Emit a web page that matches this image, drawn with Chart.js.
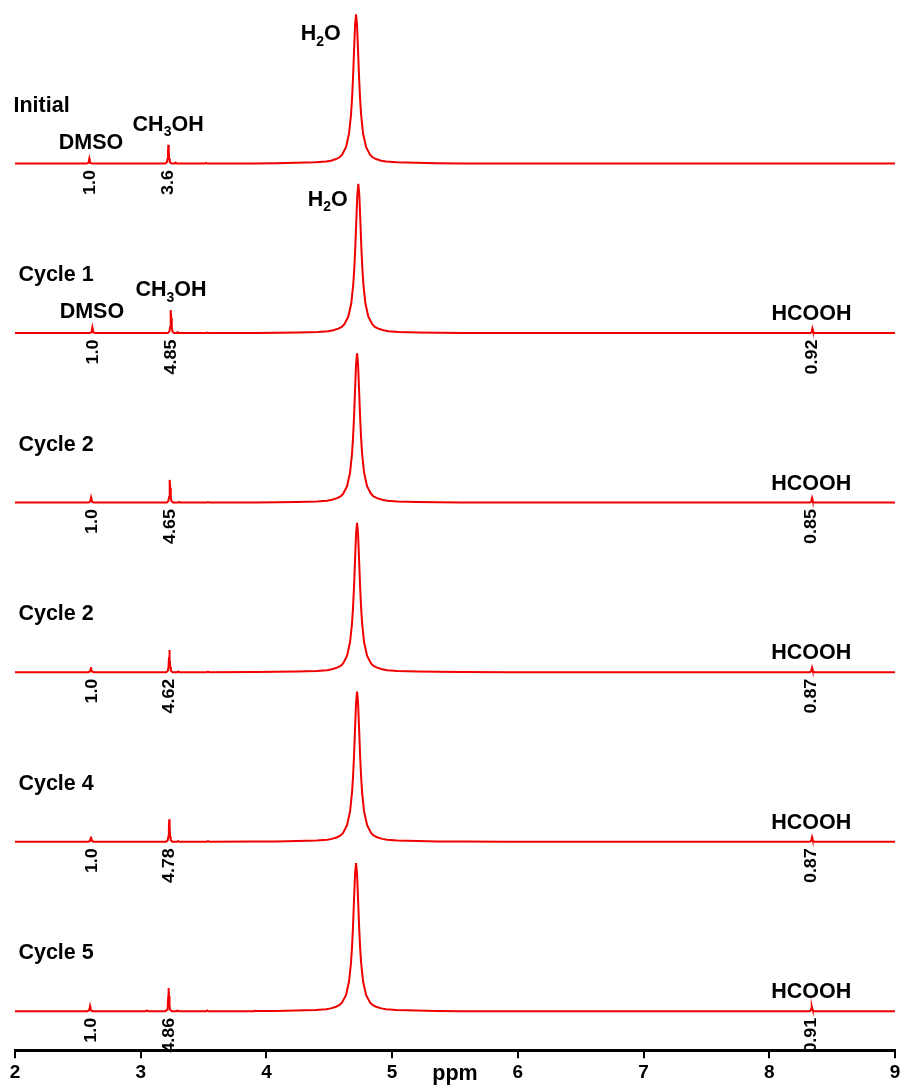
<!DOCTYPE html>
<html>
<head>
<meta charset="utf-8">
<style>
html,body{margin:0;padding:0;background:#fff;}
#wrap{width:900px;height:1087px;position:relative;}
canvas{display:block;}
</style>
<script src="https://cdn.jsdelivr.net/npm/chart.js@4"></script>
</head>
<body>
<div id="wrap"><canvas id="c" width="900" height="1087"></canvas></div>
<script>
// ---------------- DATA ----------------
const traceNames = ['Initial', 'Cycle 1', 'Cycle 2', 'Cycle 2', 'Cycle 4', 'Cycle 5'];
const xTicks = [2, 3, 4, 5, 6, 7, 8, 9];
const xTitle = 'ppm';

// integral values written under the peaks
const dmsoIntegrals = ['1.0', '1.0', '1.0', '1.0', '1.0', '1.0'];
const methanolIntegrals = ['3.6', '4.85', '4.65', '4.62', '4.78', '4.86'];
const formicIntegrals = [null, '0.92', '0.85', '0.87', '0.87', '0.91'];

// peak centres (ppm)
const dmsoPpm = [2.591, 2.615, 2.605, 2.604, 2.604, 2.597];
const methanolPpm = [3.220, 3.240, 3.232, 3.228, 3.227, 3.222];
const formicPpm = [null, 8.343, 8.340, 8.340, 8.340, 8.338];

// spectra: [ppm, intensity] (H2O of the initial spectrum ~ 100)
const spectrumInitial = [
  [2.00,0],
  [2.570,0],[2.582,0.5],[2.587,1.6],[2.591,3.3],[2.595,1.6],[2.600,0.5],[2.612,0],
  [3.195,0],[3.208,0.9],[3.213,3.0],[3.217,8.0],[3.220,12.5],[3.223,8.0],[3.227,3.0],[3.232,0.9],[3.245,0],
  [3.270,0],[3.278,0.6],[3.286,0],
  [3.510,0],[3.520,0.4],[3.530,0],
  [3.900,0.05],[4.073,0.2],[4.233,0.45],[4.393,0.8],[4.474,1.3],[4.513,1.9],[4.554,3.0],[4.582,4.2],[4.602,5.9],[4.633,10.9],[4.657,20.0],[4.673,32.9],[4.681,43.4],[4.689,57.6],[4.697,75.4],[4.705,92.5],
  [4.713,100],
  [4.721,92.5],[4.729,75.4],[4.737,57.6],[4.745,43.4],[4.753,32.9],[4.769,20.0],[4.793,10.9],[4.824,5.9],[4.844,4.2],[4.872,3.0],[4.913,1.9],[4.952,1.3],[5.033,0.8],[5.193,0.45],[5.353,0.2],[5.550,0.05],
  [5.90,0],
  [9.00,0]
];
const spectrumCycle1 = [
  [2.00,0],
  [2.594,0],[2.606,0.6],[2.611,1.8],[2.615,3.7],[2.619,1.8],[2.624,0.6],[2.636,0],
  [3.215,0],[3.228,1.1],[3.233,3.7],[3.237,9.9],[3.240,15.4],[3.243,9.9],[3.247,3.7],[3.252,1.1],[3.265,0],
  [3.285,0],[3.293,0.6],[3.301,0],
  [3.520,0],[3.530,0.4],[3.540,0],
  [3.918,0.05],[4.091,0.2],[4.251,0.45],[4.411,0.8],[4.492,1.3],[4.531,1.9],[4.572,3.0],[4.600,4.2],[4.620,5.9],[4.651,10.9],[4.675,20.0],[4.691,32.9],[4.699,43.4],[4.707,57.6],[4.715,75.4],[4.723,92.5],
  [4.731,100],
  [4.739,92.5],[4.747,75.4],[4.755,57.6],[4.763,43.4],[4.771,32.9],[4.787,20.0],[4.811,10.9],[4.842,5.9],[4.862,4.2],[4.890,3.0],[4.931,1.9],[4.970,1.3],[5.051,0.8],[5.211,0.45],[5.371,0.2],[5.568,0.05],
  [5.90,0],
  [8.325,0],[8.335,0.6],[8.339,1.6],[8.343,3.0],[8.347,1.6],[8.351,0.6],[8.361,0],
  [9.00,0]
];
const spectrumCycle2a = [
  [2.00,0],
  [2.584,0],[2.596,0.5],[2.601,1.7],[2.605,3.4],[2.609,1.7],[2.614,0.5],[2.626,0],
  [3.207,0],[3.220,1.1],[3.225,3.6],[3.229,9.7],[3.232,15.2],[3.235,9.7],[3.239,3.6],[3.244,1.1],[3.257,0],
  [3.300,0],[3.308,0.5],[3.316,0],
  [3.525,0],[3.535,0.4],[3.545,0],
  [3.908,0.05],[4.081,0.2],[4.241,0.45],[4.401,0.8],[4.482,1.3],[4.521,1.9],[4.562,3.0],[4.590,4.2],[4.610,5.9],[4.641,10.9],[4.665,20.0],[4.681,32.9],[4.689,43.4],[4.697,57.6],[4.705,75.4],[4.713,92.5],
  [4.721,100],
  [4.729,92.5],[4.737,75.4],[4.745,57.6],[4.753,43.4],[4.761,32.9],[4.777,20.0],[4.801,10.9],[4.832,5.9],[4.852,4.2],[4.880,3.0],[4.921,1.9],[4.960,1.3],[5.041,0.8],[5.201,0.45],[5.361,0.2],[5.558,0.05],
  [5.90,0],
  [8.322,0],[8.332,0.6],[8.336,1.6],[8.340,3.0],[8.344,1.6],[8.348,0.6],[8.358,0],
  [9.00,0]
];
const spectrumCycle2b = [
  [2.00,0],
  [2.583,0],[2.595,0.5],[2.600,1.6],[2.604,3.3],[2.608,1.6],[2.613,0.5],[2.625,0],
  [3.203,0],[3.216,1.0],[3.221,3.5],[3.225,9.5],[3.228,14.8],[3.231,9.5],[3.235,3.5],[3.240,1.0],[3.253,0],
  [3.290,0],[3.298,0.5],[3.306,0],
  [3.525,0],[3.535,0.4],[3.545,0],
  [3.908,0.05],[4.081,0.2],[4.241,0.45],[4.401,0.8],[4.482,1.3],[4.521,1.9],[4.562,3.0],[4.590,4.2],[4.610,5.9],[4.641,10.9],[4.665,20.0],[4.681,32.9],[4.689,43.4],[4.697,57.6],[4.705,75.4],[4.713,92.5],
  [4.721,100],
  [4.729,92.5],[4.737,75.4],[4.745,57.6],[4.753,43.4],[4.761,32.9],[4.777,20.0],[4.801,10.9],[4.832,5.9],[4.852,4.2],[4.880,3.0],[4.921,1.9],[4.960,1.3],[5.041,0.8],[5.201,0.45],[5.361,0.2],[5.558,0.05],
  [5.90,0],
  [8.322,0],[8.332,0.6],[8.336,1.6],[8.340,3.0],[8.344,1.6],[8.348,0.6],[8.358,0],
  [9.00,0]
];
const spectrumCycle4 = [
  [2.00,0],
  [2.583,0],[2.595,0.5],[2.600,1.7],[2.604,3.4],[2.608,1.7],[2.613,0.5],[2.625,0],
  [3.202,0],[3.215,1.0],[3.220,3.5],[3.224,9.6],[3.227,15.0],[3.230,9.6],[3.234,3.5],[3.239,1.0],[3.252,0],
  [3.290,0],[3.298,0.5],[3.306,0],
  [3.525,0],[3.535,0.4],[3.545,0],
  [3.908,0.05],[4.081,0.2],[4.241,0.45],[4.401,0.8],[4.482,1.3],[4.521,1.9],[4.562,3.0],[4.590,4.2],[4.610,5.9],[4.641,11.0],[4.665,20.1],[4.681,33.1],[4.689,43.7],[4.697,57.9],[4.705,75.9],[4.713,93.0],
  [4.721,100.6],
  [4.729,93.0],[4.737,75.9],[4.745,57.9],[4.753,43.7],[4.761,33.1],[4.777,20.1],[4.801,11.0],[4.832,5.9],[4.852,4.2],[4.880,3.0],[4.921,1.9],[4.960,1.3],[5.041,0.8],[5.201,0.45],[5.361,0.2],[5.558,0.05],
  [5.90,0],
  [8.322,0],[8.332,0.6],[8.336,1.6],[8.340,3.0],[8.344,1.6],[8.348,0.6],[8.358,0],
  [9.00,0]
];
const spectrumCycle5 = [
  [2.00,0],
  [2.576,0],[2.588,0.5],[2.593,1.7],[2.597,3.4],[2.601,1.7],[2.606,0.5],[2.618,0],
  [3.040,0],[3.050,0.5],[3.060,0],
  [3.197,0],[3.210,1.1],[3.215,3.7],[3.219,10.0],[3.222,15.6],[3.225,10.0],[3.229,3.7],[3.234,1.1],[3.247,0],
  [3.285,0],[3.293,0.5],[3.301,0],
  [3.520,0],[3.530,0.5],[3.540,0],
  [3.900,0.05],[3.910,0.35],[3.920,0.1],
  [4.073,0.2],[4.233,0.45],[4.393,0.8],[4.474,1.3],[4.513,1.9],[4.554,3.0],[4.582,4.2],[4.602,5.9],[4.633,10.8],[4.657,19.9],[4.673,32.7],[4.681,43.1],[4.689,57.2],[4.697,74.9],[4.705,91.9],
  [4.713,99.3],
  [4.721,91.9],[4.729,74.9],[4.737,57.2],[4.745,43.1],[4.753,32.7],[4.769,19.9],[4.793,10.8],[4.824,5.9],[4.844,4.2],[4.872,3.0],[4.913,1.9],[4.952,1.3],[5.033,0.8],[5.193,0.45],[5.353,0.2],[5.550,0.05],
  [5.90,0],
  [8.320,0],[8.330,0.6],[8.334,1.7],[8.338,3.2],[8.342,1.7],[8.346,0.6],[8.356,0],
  [9.00,0]
];
const spectra = [spectrumInitial, spectrumCycle1, spectrumCycle2a, spectrumCycle2b, spectrumCycle4, spectrumCycle5];

// ---------------- LAYOUT / STYLE ----------------
const FONT = '"Liberation Sans", Arial, Helvetica, sans-serif';
const RED = '#f00000';
const baselinePx = [162.7, 332.4, 502.1, 671.8, 841.5, 1011.2];
const unitPx = 1.494;          // pixels per intensity unit

const yScales = {};
spectra.forEach((s, i) => {
  yScales['y' + i] = { type: 'linear', display: false, min: -30, max: 100 };
});

// peak label placement: [traceIndex, parts, anchorPpm, align, risePx]
const peakLabelLayout = [
  [0, [['DMSO', 0]], 2.605, 'center', 14.7],
  [0, [['CH', 0], ['3', 1], ['OH', 0]], 3.218, 'center', 32.7],
  [0, [['H', 0], ['2', 1], ['O', 0]], 4.591, 'right', 123.4],
  [1, [['DMSO', 0]], 2.612, 'center', 14.6],
  [1, [['CH', 0], ['3', 1], ['OH', 0]], 3.241, 'center', 36.6],
  [1, [['H', 0], ['2', 1], ['O', 0]], 4.647, 'right', 127.3],
  [1, [['HCOOH', 0]], 8.336, 'center', 13],
  [2, [['HCOOH', 0]], 8.333, 'center', 13],
  [3, [['HCOOH', 0]], 8.333, 'center', 13],
  [4, [['HCOOH', 0]], 8.333, 'center', 13],
  [5, [['HCOOH', 0]], 8.333, 'center', 13]
];
const nameLabelX = [13.5, 18.4, 18.4, 18.4, 18.4, 18.4];
const nameRise = 52;
const MAIN_FONT = 'bold 21.5px ' + FONT;
const SUB_FONT = 'bold 14px ' + FONT;

function drawChem(ctx, parts, x, y, align) {
  let w = 0;
  parts.forEach(p => { ctx.font = p[1] ? SUB_FONT : MAIN_FONT; w += ctx.measureText(p[0]).width; });
  let cx = align === 'center' ? x - w / 2 : (align === 'right' ? x - w : x);
  ctx.textAlign = 'left';
  ctx.textBaseline = 'alphabetic';
  parts.forEach(p => {
    ctx.font = p[1] ? SUB_FONT : MAIN_FONT;
    ctx.fillText(p[0], cx, p[1] ? y + 5.5 : y);
    cx += ctx.measureText(p[0]).width;
  });
}

function drawIntegral(ctx, text, x, y) {
  ctx.save();
  ctx.translate(x, y);
  ctx.rotate(-Math.PI / 2);
  ctx.scale(1.12, 1);
  ctx.font = 'bold 16px ' + FONT;
  ctx.textAlign = 'right';
  ctx.textBaseline = 'middle';
  ctx.fillText(text, 0, 0);
  ctx.restore();
}

const labelPlugin = {
  id: 'nmrLabels',
  afterDraw(chart) {
    const ctx = chart.ctx;
    const xs = chart.scales.x;
    ctx.save();
    ctx.fillStyle = '#000';
    traceNames.forEach((name, i) => {
      const base = chart.scales['y' + i].getPixelForValue(0);
      ctx.font = MAIN_FONT;
      ctx.textAlign = 'left';
      ctx.textBaseline = 'alphabetic';
      ctx.fillText(name, nameLabelX[i], base - nameRise);
      drawIntegral(ctx, dmsoIntegrals[i], xs.getPixelForValue(dmsoPpm[i]) + 1.5, base + 6.5);
      drawIntegral(ctx, methanolIntegrals[i], xs.getPixelForValue(methanolPpm[i]) + 0.5, base + 6.5);
      if (formicIntegrals[i]) drawIntegral(ctx, formicIntegrals[i], xs.getPixelForValue(formicPpm[i]), base + 6.5);
    });
    peakLabelLayout.forEach(l => {
      const base = chart.scales['y' + l[0]].getPixelForValue(0);
      drawChem(ctx, l[1], xs.getPixelForValue(l[2]), base - l[4], l[3]);
    });
    // axis title
    ctx.font = MAIN_FONT;
    ctx.textAlign = 'center';
    ctx.textBaseline = 'alphabetic';
    ctx.fillText(xTitle, (xs.left + xs.right) / 2, 1080.3);
    ctx.restore();
  }
};

const datasets = spectra.map((s, i) => ({
  label: traceNames[i],
  data: s,
  yAxisID: 'y' + i,
  borderColor: RED,
  borderWidth: 2,
  pointRadius: 0,
  tension: 0,
  fill: false,
  clip: false
}));

const chart = new Chart(document.getElementById('c'), {
  type: 'line',
  data: { datasets },
  options: {
    responsive: false,
    animation: false,
    devicePixelRatio: 1,
    events: [],
    layout: { padding: { top: 0, left: 15, right: 5, bottom: 0 } },
    plugins: { legend: { display: false }, tooltip: { enabled: false } },
    scales: Object.assign({
      x: {
        type: 'linear', position: 'bottom',
        min: xTicks[0], max: xTicks[xTicks.length - 1],
        afterBuildTicks: scale => { scale.ticks = xTicks.map(v => ({ value: v })); },
        afterFit: scale => { scale.paddingLeft = 0; scale.paddingRight = 0; },
        ticks: {
          color: '#000', padding: 3, maxRotation: 0, autoSkip: false,
          font: { family: FONT, size: 19, weight: 'bold' },
          callback: v => String(v)
        },
        grid: { display: true, drawOnChartArea: false, drawTicks: true, tickLength: 8, color: '#000', lineWidth: 2 },
        border: { display: true, color: '#000', width: 3 }
      }
    }, yScales)
  },
  plugins: [labelPlugin]
});

// place each spectrum's baseline at its band position using the real chart area
(function fitBands() {
  const a = chart.chartArea;
  spectra.forEach((s, i) => {
    const o = chart.options.scales['y' + i];
    o.min = -(a.bottom - baselinePx[i]) / unitPx;
    o.max = (baselinePx[i] - a.top) / unitPx;
  });
  chart.update();
})();
</script>
</body>
</html>
